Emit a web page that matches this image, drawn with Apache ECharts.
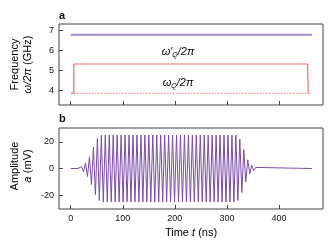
<!DOCTYPE html>
<html><head><meta charset="utf-8">
<script src="https://cdn.jsdelivr.net/npm/echarts@6/dist/echarts.min.js"></script>
<style>html,body{margin:0;padding:0;background:#fff}#c{width:333px;height:250px}</style>
</head><body><div id="c"></div>
<script>
// ---- data ----
const timeTicks = [0, 100, 200, 300, 400];
const freqTicks = [4, 5, 6, 7];
const ampTicks = [-20, 0, 20];

// panel a: qubit frequencies (GHz)
const readoutTimes = [0, 463];
const readoutFreq = [6.8, 6.8];
const pulseTimes = [0, 6, 6, 455, 456];
const pulseFreq = [3.87, 3.87, 5.335, 5.335, 3.87];
const idleTimes = [6, 462];
const idleFreq = [3.87, 3.87];

// panel b: signal extrema (ns, mV)
const signalTimes = [0, 14,
  17.0, 20.8, 24.6, 28.4, 32.2, 36.0, 39.8, 43.6, 47.4, 51.2, 55.0, 58.8,
  62.6, 66.4, 70.2, 74.0, 77.8, 81.6, 85.4, 89.2, 93.0, 96.8, 100.6, 104.4,
  108.2, 112.0, 115.8, 119.6, 123.4, 127.2, 131.0, 134.8, 138.6, 142.4, 146.2, 150.0,
  153.8, 157.6, 161.4, 165.2, 169.0, 172.8, 176.6, 180.4, 184.2, 188.0, 191.8, 195.6,
  199.4, 203.2, 207.0, 210.8, 214.6, 218.4, 222.2, 226.0, 229.8, 233.6, 237.4, 241.2,
  245.0, 248.8, 252.6, 256.4, 260.2, 264.0, 267.8, 271.6, 275.4, 279.2, 283.0, 286.8,
  290.6, 294.4, 298.2, 302.0, 305.8, 309.6, 313.4, 317.2,
  321.0, 324.8, 328.6, 332.4, 336.2, 340.0, 343.8, 347.6, 351.4, 355.2,
  359, 463];
const signalAmps = [0, 0,
  -1, 1.5, -2.5, 4, -6, 8.5, -12, 16, -19.5, 22.5, -24, 25,
  -25, 25, -25, 25, -25, 25, -25, 25, -25, 25, -25, 25,
  -25, 25, -25, 25, -25, 25, -25, 25, -25, 25, -25, 25,
  -25, 25, -25, 25, -25, 25, -25, 25, -25, 25, -25, 25,
  -25, 25, -25, 25, -25, 25, -25, 25, -25, 25, -25, 25,
  -25, 25, -25, 25, -25, 25, -25, 25, -25, 25, -25, 25,
  -25, 25, -25, 25, -25, 25, -25, 25,
  -24, 22, -18, 14, -10, 6.5, -4, 2.5, -1.5, 0.8,
  0, 0];

const zip = (a, b) => a.map((v, i) => [v, b[i]]);

const FONT = 'Liberation Sans';
const AX = '#444';
const chart = echarts.init(document.getElementById('c'), null, {renderer: 'canvas'});

function xAx(idx, labels) {
  return {
    type: 'value', gridIndex: idx, min: -22.5, max: 484.5, position: 'bottom',
    axisLine: {show: false, onZero: false},
    splitLine: {show: false},
    axisTick: {show: true, inside: true, length: 4, customValues: timeTicks, lineStyle: {color: AX}},
    axisLabel: {show: labels, customValues: timeTicks, color: '#111', fontSize: 9, fontFamily: FONT, margin: 5}
  };
}
function yAx(idx, min, max, ticks) {
  return {
    type: 'value', gridIndex: idx, min: min, max: max, position: 'left',
    axisLine: {show: false, onZero: false},
    splitLine: {show: false},
    axisTick: {show: true, inside: true, length: 4, customValues: ticks, lineStyle: {color: AX}},
    axisLabel: {show: true, customValues: ticks, color: '#111', fontSize: 9, fontFamily: FONT, margin: 5}
  };
}

const italic = {fontStyle: 'italic', fontSize: 11, fontFamily: FONT, color: '#111'};
const normal = {fontSize: 11, fontFamily: FONT, color: '#111'};

chart.setOption({
  animation: false,
  grid: [
    {left: 59, top: 24, width: 264, height: 81, show: true, borderColor: AX, borderWidth: 1, backgroundColor: 'transparent'},
    {left: 59, top: 128, width: 264, height: 81, show: true, borderColor: AX, borderWidth: 1, backgroundColor: 'transparent'}
  ],
  xAxis: [xAx(0, false), xAx(1, true)],
  yAxis: [yAx(0, 3.285, 7.335, freqTicks), yAx(1, -30.3, 30.3, ampTicks)],
  series: [
    {type: 'line', xAxisIndex: 0, yAxisIndex: 0, data: zip(readoutTimes, readoutFreq), showSymbol: false,
     lineStyle: {color: '#a68bc9', width: 2}},
    {type: 'line', xAxisIndex: 0, yAxisIndex: 0, data: zip(idleTimes, idleFreq), showSymbol: false,
     lineStyle: {color: '#f76b6b', width: 1, type: [1.5, 1.5]}},
    {type: 'line', xAxisIndex: 0, yAxisIndex: 0, data: zip(pulseTimes, pulseFreq), showSymbol: false,
     lineStyle: {color: '#f76b6b', width: 1.2}},
    {type: 'line', xAxisIndex: 1, yAxisIndex: 1, data: zip(signalTimes, signalAmps), showSymbol: false,
     lineStyle: {color: '#7a4ca6', width: 1}}
  ],
  graphic: [
    {type: 'text', left: 59, top: 10, style: {text: 'a', font: 'bold 11px "Liberation Sans"', fill: '#111'}},
    {type: 'text', left: 59, top: 113, style: {text: 'b', font: 'bold 11px "Liberation Sans"', fill: '#111'}},
    {type: 'text', x: 21, y: 64.5, rotation: Math.PI / 2,
     style: {text: '{n|Frequency}\n{i|ω/2π} {n|(GHz)}', align: 'center', verticalAlign: 'middle',
       rich: {n: Object.assign({lineHeight: 13}, normal), i: Object.assign({lineHeight: 13}, italic)}}},
    {type: 'text', x: 21, y: 166, rotation: Math.PI / 2,
     style: {text: '{n|Amplitude}\n{i|a} {n|(mV)}', align: 'center', verticalAlign: 'middle',
       rich: {n: Object.assign({lineHeight: 13}, normal), i: Object.assign({lineHeight: 13}, italic)}}},
    {type: 'text', x: 191, y: 233,
     style: {text: '{n|Time }{i|t}{n| (ns)}', align: 'center', verticalAlign: 'middle',
       rich: {n: normal, i: italic}}},
    {type: 'text', x: 178, y: 52,
     style: {text: '{i|ω′}{s|Q}{i|/2π}', align: 'center', verticalAlign: 'middle',
       rich: {i: Object.assign({lineHeight: 14, verticalAlign: 'middle'}, italic),
              s: {fontStyle: 'italic', fontSize: 7, fontFamily: FONT, color: '#111', lineHeight: 14, verticalAlign: 'bottom', padding: [7, 0, 0, 0]}}}},
    {type: 'text', x: 178, y: 83,
     style: {text: '{i|ω}{s|Q}{i|/2π}', align: 'center', verticalAlign: 'middle',
       rich: {i: Object.assign({lineHeight: 14, verticalAlign: 'middle'}, italic),
              s: {fontStyle: 'italic', fontSize: 7, fontFamily: FONT, color: '#111', lineHeight: 14, verticalAlign: 'bottom', padding: [7, 0, 0, 0]}}}}
  ]
});
</script></body></html>
